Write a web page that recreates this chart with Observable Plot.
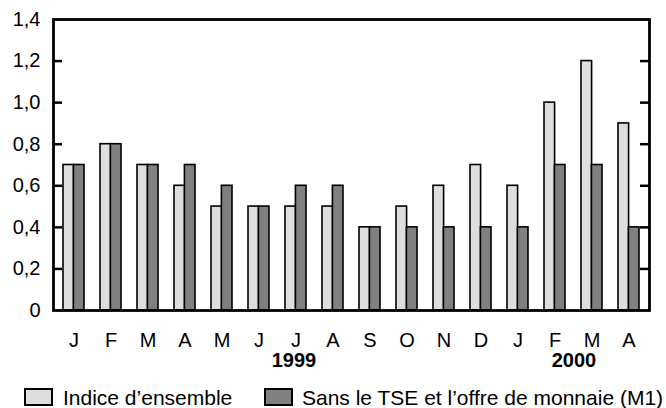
<!DOCTYPE html>
<html>
<head>
<meta charset="utf-8">
<script src="https://cdn.jsdelivr.net/npm/d3@7"></script>
<script src="https://cdn.jsdelivr.net/npm/@observablehq/plot@0.6"></script>
<style>
  html, body { margin: 0; padding: 0; background: #fff; }
  #wrap { position: relative; width: 666px; height: 408px; overflow: hidden; font-family: "Liberation Sans", Arial, sans-serif; color: #000; }
  #title { position: absolute; left: 27px; top: -18px; font-size: 20px; line-height: 23px; white-space: nowrap; color: #555; }
  #chart { position: absolute; left: 0; top: 0; }
  .lg-box { position: absolute; box-sizing: border-box; border: 2.5px solid #000; width: 29px; height: 18px; top: 388px; }
  .lg-text { position: absolute; top: 386px; font-size: 21px; line-height: 23px; white-space: nowrap; }
</style>
</head>
<body>
<div id="wrap">
  <div id="chart"></div>
  <div id="title">Variation mensuelle en %</div>
  <div class="lg-box" style="left:24px;background:#dedede"></div>
  <div class="lg-text" style="left:63px">Indice d’ensemble</div>
  <div class="lg-box" style="left:264px;background:#808080"></div>
  <div class="lg-text" style="left:302px">Sans le TSE et l’offre de monnaie (M1)</div>
</div>
<script>
const months = ["J","F","M","A","M","J","J","A","S","O","N","D","J","F","M","A"];
const indiceEnsemble = [0.7,0.8,0.7,0.6,0.5,0.5,0.5,0.5,0.4,0.5,0.6,0.7,0.6,1.0,1.2,0.9];
const sansTSE = [0.7,0.8,0.7,0.7,0.6,0.5,0.6,0.6,0.4,0.4,0.4,0.4,0.4,0.7,0.7,0.4];
const yTicks = [0,0.2,0.4,0.6,0.8,1.0,1.2,1.4];
const year1999 = [{label:"1999", i:6}];
const year2000 = [{label:"2000", i:13}];

const data = months.map((m, i) => ({i, m, total: indiceEnsemble[i], core: sansTSE[i]}));
const W = 666, H = 372;
const mL = 53, mR = 17, mT = 19, mB = 62;
const plotW = W - mL - mR;
const fmt = d => d === 0 ? "0" : d.toFixed(1).replace(".", ",");

const xDomain = d3.range(months.length);
const xs = d3.scaleBand().domain(xDomain).range([mL, W - mR]).paddingInner(0.44).paddingOuter(0.24);
const half = xs.bandwidth() / 2;
const innerTicks = yTicks.filter(d => d > 0 && d < 1.4);

const chart = Plot.plot({
  width: W, height: H,
  marginLeft: mL, marginRight: mR, marginTop: mT, marginBottom: mB,
  style: {fontFamily: "'Liberation Sans', Arial, sans-serif", fontSize: "20px", color: "#000", background: "#fff", overflow: "visible"},
  x: {type: "band", domain: xDomain, paddingInner: 0.44, paddingOuter: 0.24},
  y: {domain: [0, 1.4]},
  marks: [
    Plot.barY(data, {x: "i", y: "total", fill: "#dedede", stroke: "#000", strokeWidth: 1.6, insetRight: half}),
    Plot.barY(data, {x: "i", y: "core", fill: "#808080", stroke: "#000", strokeWidth: 1.6, insetLeft: half}),
    Plot.tickY(innerTicks, {y: d => d, stroke: "#000", strokeWidth: 2.5, insetRight: plotW - 9}),
    Plot.tickY(innerTicks, {y: d => d, stroke: "#000", strokeWidth: 2.5, insetLeft: plotW - 9}),
    Plot.frame({stroke: "#000", strokeWidth: 2.8}),
    Plot.axisY({ticks: yTicks, tickFormat: fmt, tickSize: 0, tickPadding: 13, label: null, fontSize: 20}),
    Plot.axisX({tickFormat: i => months[i], tickSize: 0, tickPadding: 22, label: null, fontSize: 20}),
    Plot.text(year1999, {x: "i", text: "label", frameAnchor: "bottom", lineAnchor: "middle", dy: 50, dx: -2, fontWeight: "bold", fontSize: 20}),
    Plot.text(year2000, {x: "i", text: "label", frameAnchor: "bottom", lineAnchor: "middle", dy: 50, dx: 19, fontWeight: "bold", fontSize: 20})
  ]
});
document.getElementById("chart").appendChild(chart);
</script>
</body>
</html>
